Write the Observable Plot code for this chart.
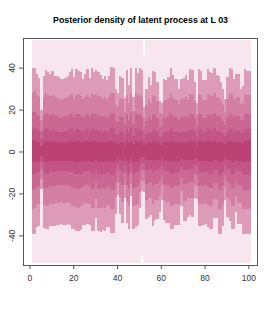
<!DOCTYPE html>
<html><head><meta charset="utf-8">
<script src="https://cdn.jsdelivr.net/npm/d3@7"></script>
<script src="https://cdn.jsdelivr.net/npm/@observablehq/plot@0.6"></script>
<style>
html,body{margin:0;padding:0;background:#fff;}
#chart svg{display:block;}
</style></head>
<body><div id="chart"></div>
<script>
const title = "Posterior density of latent process at L 03";
const xTicks = [0, 20, 40, 60, 80, 100];
const yTicks = [-40, -20, 0, 20, 40];
const timeIndex = d3.range(1, 101);

const q995 = [53.3,53.3,53.3,53.3,53.3,53.3,53.3,53.3,53.3,53.3,53.3,53.3,53.3,53.3,53.3,53.3,53.3,53.3,53.3,53.3,53.3,53.3,53.3,53.3,53.3,53.3,53.3,53.3,53.3,53.3,53.3,53.3,53.3,53.3,53.3,53.3,53.3,53.3,53.3,53.3,53.3,53.3,53.3,53.3,53.3,53.3,53.3,53.3,53.3,53.3,53.3,46,53.3,53.3,53.3,53.3,53.3,53.3,53.3,53.3,53.3,53.3,53.3,53.3,53.3,53.3,53.3,53.3,53.3,53.3,53.3,53.3,53.3,53.3,53.3,53.3,53.3,53.3,53.3,53.3,53.3,53.3,53.3,53.3,53.3,53.3,53.3,53.3,53.3,53.3,53.3,53.3,53.3,53.3,53.3,53.3,53.3,53.3,53.3,53.3];
const q005 = [-53.3,-53.3,-53.3,-53.3,-53.3,-53.3,-53.3,-53.3,-53.3,-53.3,-53.3,-53.3,-53.3,-53.3,-53.3,-53.3,-53.3,-53.3,-53.3,-53.3,-53.3,-53.3,-53.3,-53.3,-53.3,-53.3,-53.3,-53.3,-53.3,-53.3,-53.3,-53.3,-53.3,-53.3,-53.3,-53.3,-53.3,-53.3,-53.3,-53.3,-53.3,-53.3,-53.3,-53.3,-53.3,-53.3,-53.3,-53.3,-53.3,-53.3,-50,-53.3,-53.3,-53.3,-53.3,-53.3,-53.3,-53.3,-53.3,-53.3,-53.3,-53.3,-53.3,-53.3,-53.3,-53.3,-53.3,-53.3,-53.3,-53.3,-53.3,-53.3,-53.3,-53.3,-53.3,-53.3,-53.3,-53.3,-53.3,-53.3,-53.3,-53.3,-53.3,-53.3,-53.3,-53.3,-53.3,-53.3,-53.3,-53.3,-53.3,-53.3,-53.3,-53.3,-53.3,-53.3,-53.3,-53.3,-53.3,-53.3];
const q975 = [40,40,37,35,20,36,39,38,37,38.5,36,36,35.5,34.5,34.5,35,36,38,39.5,35.5,39.5,38.5,38,34.5,37,39.5,35,40,38,39,38,36.5,34.5,36,34,36,40.5,40,30,28,36,35,25.5,39,31.5,40,26,40,37.5,40,39,21,30,35.5,31.5,38.5,38,33,24,23,34.5,34,35.5,40,36.5,34.5,34.5,30,34.5,35,36.5,34,39.5,39,33,23,39.5,38.5,34,34,39.5,38,37.5,40,36.5,36,33,30,25,35.5,40,39.5,34.5,37,37,30,31,39.5,38.5,38.5];
const q025 = [-39.5,-39.5,-36,-35.5,-18,-36.5,-37,-37,-35.5,-35.5,-35.5,-35,-35,-34.5,-35,-35,-34.5,-35,-37,-37,-38,-38,-37.5,-35,-35,-34.5,-35,-38,-38,-31.5,-38,-38.5,-37.5,-38,-36,-36,-39,-39,-30,-20.5,-30,-34,-22,-34,-37,-21,-37,-36,-35,-27,-19,-19.5,-32,-31,-30.5,-35.5,-32.5,-32,-29,-23,-32.5,-34,-34,-37,-37,-35,-35,-35,-26,-33,-33,-31,-30.5,-31,-22,-22.5,-35.5,-35.5,-35,-34.5,-36,-37,-37,-31.5,-31.5,-39.5,-39.5,-35.5,-23,-31,-33,-37,-37,-29,-34.5,-34.5,-39.5,-39.5,-39.5,-39.5];
const q90 = [28,29,27,26,15,26,28,27,26.5,27,26,25.5,25,24.5,25,25.5,26,27,27.5,25,27,27.5,26.5,25,26,27,25.5,28,27,27.5,26.5,26,25,26,24.5,26,28,28,22,21,25.5,25,19,27,23,28,19.5,28,26.5,27,26,16,22,25,23,27,26.5,24,18.5,18,24.5,24.5,25.5,28,26,25,24.5,22.5,25,25,26,24.5,27.5,27,24,17.5,27.5,27,24.5,24.5,27.5,27,26.5,28,26,25.5,24,22,19,25,28,27.5,25,26,26,22.5,23,27.5,27,27];
const q10 = [-27.5,-27,-25.5,-25,-13,-25.5,-26,-26,-25,-25,-25,-24.5,-24.5,-24,-24.5,-24.5,-24,-24.5,-26,-26,-26.5,-27,-26,-25,-24.5,-24.5,-25,-27,-27,-22.5,-27,-27,-26.5,-27,-25.5,-25.5,-27.5,-27.5,-21.5,-15,-21.5,-24,-16,-24,-26,-15.5,-26,-25.5,-25,-19.5,-14,-14,-23,-22,-22,-25,-23,-23,-21,-16.5,-23,-24,-24,-26,-26,-25,-25,-25,-19,-23.5,-23.5,-22,-22,-22,-16,-16.5,-25,-25,-25,-24.5,-25.5,-26,-26,-22.5,-22.5,-27.5,-27.5,-25,-17,-22,-23.5,-26,-26,-21,-24.5,-24.5,-27.5,-27.5,-27.5,-27.5];
const q80 = [19,19,18,17,10,17,18.5,18,17.5,18,17,17,16.5,16,16.5,17,17,18,18.5,16.5,18,18,17.5,16.5,17,18,16.5,18.5,18,18,17.5,17,16.5,17,16,17,18.5,18.5,14.5,14,17,16.5,12.5,18,15,18.5,13,18.5,17.5,18,17,10.5,14.5,16.5,15,18,17.5,16,12,12,16,16,17,18.5,17,16.5,16,15,16.5,16.5,17,16,18,18,16,11.5,18,18,16,16,18,17.5,17.5,18.5,17,17,16,14.5,12.5,16.5,18.5,18,16.5,17,17,15,15,18,18,18];
const q20 = [-18.5,-18,-17,-16.5,-8.5,-17,-17.5,-17.5,-16.5,-16.5,-16.5,-16,-16,-16,-16,-16,-16,-16.5,-17,-17.5,-17.5,-18,-17.5,-16.5,-16,-16,-16.5,-18,-18,-15,-18,-18,-17.5,-18,-17,-17,-18.5,-18.5,-14.5,-10,-14.5,-16,-10.5,-16,-17.5,-10,-17.5,-17,-16.5,-13,-9,-9.5,-15.5,-14.5,-14.5,-16.5,-15.5,-15.5,-14,-11,-15.5,-16,-16,-17.5,-17.5,-16.5,-16.5,-16.5,-12.5,-15.5,-15.5,-14.5,-14.5,-14.5,-10.5,-11,-16.5,-16.5,-16.5,-16,-17,-17.5,-17.5,-15,-15,-18.5,-18.5,-16.5,-11,-14.5,-15.5,-17.5,-17.5,-14,-16,-16,-18.5,-18.5,-18.5,-18.5];
const q70 = [11.5,11,10.5,10,6,10,11,10.5,10,10.5,10,10,9.5,9.5,9.5,10,10,10.5,11,9.5,10.5,10.5,10,9.5,10,10.5,9.5,11,10.5,10.5,10,10,9.5,10,9.5,10,11,11,8.5,8,10,9.5,7,10.5,9,11,7.5,11,10,10.5,10,6,8.5,9.5,9,10.5,10,9.5,7,7,9.5,9.5,10,11,10,9.5,9.5,9,9.5,9.5,10,9.5,10.5,10.5,9.5,7,10.5,10.5,9.5,9.5,10.5,10.5,10,11,10,10,9.5,8.5,7.5,9.5,11,10.5,9.5,10,10,9,9,10.5,10.5,10.5];
const q30 = [-11,-10.5,-10,-10,-5,-10,-10.5,-10.5,-10,-10,-10,-9.5,-9.5,-9.5,-9.5,-9.5,-9.5,-10,-10,-10.5,-10.5,-10.5,-10.5,-10,-9.5,-9.5,-10,-10.5,-10.5,-9,-10.5,-10.5,-10.5,-10.5,-10,-10,-11,-11,-8.5,-6,-8.5,-9.5,-6.5,-9.5,-10.5,-6,-10.5,-10,-10,-7.5,-5.5,-5.5,-9,-8.5,-8.5,-10,-9,-9,-8.5,-6.5,-9,-9.5,-9.5,-10.5,-10.5,-10,-10,-10,-7.5,-9,-9,-8.5,-8.5,-8.5,-6.5,-6.5,-10,-10,-10,-9.5,-10,-10.5,-10.5,-9,-9,-11,-11,-10,-6.5,-8.5,-9,-10.5,-10.5,-8.5,-9.5,-9.5,-11,-11,-11,-11];
const q60 = [5.5,5,5,4.5,2.5,4.5,5,5,4.5,5,4.5,4.5,4.5,4,4.5,4.5,4.5,5,5,4.5,5,5,4.5,4.5,4.5,5,4.5,5,5,5,4.5,4.5,4.5,4.5,4.5,4.5,5,5,4,3.5,4.5,4.5,3,5,4,5,3.5,5,4.5,5,4.5,3,4,4.5,4,5,4.5,4.5,3.5,3,4.5,4.5,4.5,5,4.5,4.5,4.5,4,4.5,4.5,4.5,4.5,5,5,4.5,3,5,5,4.5,4.5,5,5,4.5,5,4.5,4.5,4.5,4,3.5,4.5,5,5,4.5,4.5,4.5,4,4,5,5,5];
const q40 = [-5,-5,-4.5,-4.5,-2,-4.5,-5,-5,-4.5,-4.5,-4.5,-4.5,-4.5,-4.5,-4.5,-4.5,-4.5,-4.5,-4.5,-5,-5,-5,-5,-4.5,-4.5,-4.5,-4.5,-5,-5,-4,-5,-5,-5,-5,-4.5,-4.5,-5,-5,-4,-3,-4,-4.5,-3,-4.5,-5,-3,-5,-4.5,-4.5,-3.5,-2.5,-2.5,-4,-4,-4,-4.5,-4,-4,-4,-3,-4,-4.5,-4.5,-5,-5,-4.5,-4.5,-4.5,-3.5,-4,-4,-4,-4,-4,-3,-3,-4.5,-4.5,-4.5,-4.5,-4.5,-5,-5,-4,-4,-5,-5,-4.5,-3,-4,-4,-5,-5,-4,-4.5,-4.5,-5,-5,-5,-5];

const bandColors = ["#f7e6ee", "#dd9bb8", "#d27fa2", "#ca6893", "#c35584", "#bd4274"];
const bands = [[q005, q995], [q025, q975], [q10, q90], [q20, q80], [q30, q70], [q40, q60]];

const rectMarks = bands.map(([lo, hi], k) => {
  const rows = timeIndex.map((t, i) => ({x1: t, x2: t + 1, y1: lo[i], y2: hi[i]}));
  return Plot.rect(rows, {x1: "x1", x2: "x2", y1: "y1", y2: "y2", fill: bandColors[k], shapeRendering: "crispEdges"});
});

const chart = Plot.plot({
  width: 275,
  height: 314,
  marginLeft: 23,
  marginRight: 18,
  marginTop: 38,
  marginBottom: 49,
  style: {fontFamily: "Liberation Sans, Arial, sans-serif", background: "#fff"},
  x: {domain: [-2.96, 103.96], axis: null},
  y: {domain: [-54.1, 54.1], axis: null},
  marks: [
    ...rectMarks,
    Plot.frame({stroke: "#555", strokeWidth: 1}),
    Plot.axisX(xTicks, {tickSize: 4, tickPadding: 5, fontSize: 8.5, color: "#333", stroke: "#555", label: null}),
    Plot.axisY(yTicks, {tickSize: 4, tickFormat: () => "", stroke: "#555", label: null}),
    Plot.text(yTicks, {y: d => d, text: d => String(d), frameAnchor: "left", dx: -11.5, rotate: -90, lineAnchor: "middle", textAnchor: "middle", fontSize: 8.5, fill: "#333"}),
    Plot.text([title], {frameAnchor: "top", dy: -16, text: d => d, fontWeight: "bold", fontSize: 8.8, fill: "#000", lineAnchor: "bottom"})
  ]
});
document.getElementById("chart").append(chart);
</script>
</body></html>
